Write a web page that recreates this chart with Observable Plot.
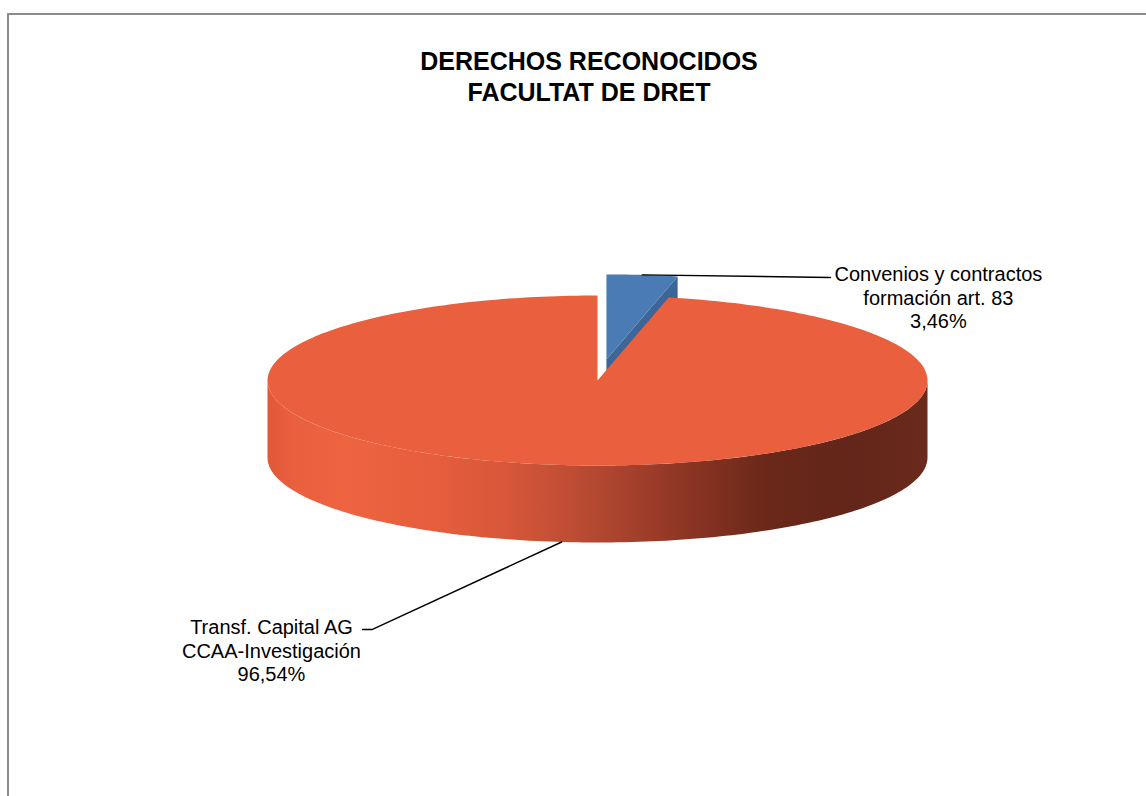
<!DOCTYPE html>
<html>
<head>
<meta charset="utf-8">
<script src="https://cdn.jsdelivr.net/npm/d3@7"></script>
<script src="https://cdn.jsdelivr.net/npm/@observablehq/plot@0.6"></script>
<style>
  html, body { margin: 0; padding: 0; background: #fff; overflow: hidden; }
  #frame { position: absolute; left: 7px; top: 13px; width: 1160px; height: 800px;
           border-left: 2px solid #8c8c8c; border-top: 2px solid #8c8c8c; }
  #title { position: absolute; left: 0; top: 46px; width: 1178px; text-align: center;
           font: bold 25px "Liberation Sans", Arial, sans-serif; line-height: 31px; color: #000; }
  #chart { position: absolute; left: 0; top: 120px; }
</style>
</head>
<body>
<div id="frame"></div>
<div id="title">DERECHOS RECONOCIDOS<br>FACULTAT DE DRET</div>
<div id="chart"></div>
<script>
// ---- data ----
const categories = ["Convenios y contractos formación art. 83", "Transf. Capital AG CCAA-Investigación"];
const labelLines = [["Convenios y contractos", "formación art. 83"], ["Transf. Capital AG", "CCAA-Investigación"]];
const values = [3.46, 96.54];
const topColors = ["#4A7BB4", "#EA5F3D"];
const faceColors = ["#3D6597", "#B8472F"];
const explode = [0.25, 0];

// ---- layout (unit-ellipse coordinates) ----
const depth = 77 / 85;          // wall height in units of the vertical radius
const labelAnchor = [            // text centre / top of first line
  {x: 1.033, y: 1.365},
  {x: -0.988, y: -2.788}
];
const leaderEnds = [
  [{x: 0.706, y: 1.212}],
  [{x: -0.682, y: -2.929}, {x: -0.712, y: -2.929}]
];

// ---- geometry from data ----
const total = d3.sum(values);
let acc = 0;
const slices = values.map((v, i) => {
  const a0 = acc / total * 2 * Math.PI;
  acc += v;
  const a1 = acc / total * 2 * Math.PI;
  const mid = (a0 + a1) / 2;
  return {i, v, a0, a1, mid, ox: explode[i] * Math.sin(mid), oy: explode[i] * Math.cos(mid)};
});

function arcPts(s, a0, a1, dy = 0, n = 300) {
  const k = Math.max(2, Math.ceil(n * (a1 - a0) / (2 * Math.PI)));
  return d3.range(k + 1).map(j => {
    const a = a0 + (a1 - a0) * j / k;
    return {x: s.ox + Math.sin(a), y: s.oy + Math.cos(a) + dy};
  });
}

const marks = [];
const fmt = v => v.toFixed(2).replace(".", ",") + "%";

// back-to-front: exploded small slice first
const order = [0, 1];
for (const i of order) {
  const s = slices[i];
  // radial face at end angle (visible when it faces the viewer)
  if (i === 0 && s.a1 < Math.PI) {
    const face = [
      {x: s.ox, y: s.oy},
      {x: s.ox + Math.sin(s.a1), y: s.oy + Math.cos(s.a1)},
      {x: s.ox + Math.sin(s.a1), y: s.oy + Math.cos(s.a1) - depth},
      {x: s.ox, y: s.oy - depth},
      {x: s.ox, y: s.oy}
    ];
    marks.push(Plot.line(face, {x: "x", y: "y", fill: faceColors[i], stroke: "none"}));
  }
  // front outer wall
  const w0 = Math.max(s.a0, Math.PI / 2), w1 = Math.min(s.a1, 3 * Math.PI / 2);
  if (w1 > w0) {
    const wall = arcPts(s, w0, w1).concat(arcPts(s, w0, w1, -depth).reverse());
    wall.push(wall[0]);
    marks.push(Plot.line(wall, {x: "x", y: "y", fill: i === 1 ? "url(#sideGrad)" : faceColors[i], stroke: "none"}));
  }
  // top face
  const top = [{x: s.ox, y: s.oy}].concat(arcPts(s, s.a0, s.a1), [{x: s.ox, y: s.oy}]);
  marks.push(Plot.line(top, {x: "x", y: "y", fill: topColors[i], stroke: "none"}));
}

// leader lines
slices.forEach((s, i) => {
  const r = 1 + explode[i];
  const onTop = Math.cos(s.mid) > 0;
  const start = {x: Math.sin(s.mid) * r, y: Math.cos(s.mid) * r - (onTop ? 0 : depth)};
  marks.push(Plot.line([start, ...leaderEnds[i]], {x: "x", y: "y", stroke: "#000", strokeWidth: 1.4}));
});

// labels
const labelData = slices.map((s, i) => ({
  x: labelAnchor[i].x, y: labelAnchor[i].y,
  text: labelLines[i].join("\n") + "\n" + fmt(values[i])
}));
marks.push(Plot.text(labelData, {
  x: "x", y: "y", text: "text", lineAnchor: "top", textAnchor: "middle",
  fontSize: 20, lineHeight: 1.18, fill: "#000",
  fontFamily: "Liberation Sans, Arial, sans-serif"
}));

const svg = Plot.plot({
  width: 1146,
  height: 676,
  margin: 0,
  style: {background: "transparent", overflow: "visible"},
  x: {axis: null, domain: [-1, 1], range: [267, 927]},
  y: {axis: null, domain: [-1, 1], range: [345, 175]},
  marks
});

// gradient for the shaded side wall
const defs = d3.select(svg).insert("defs", ":first-child");
const grad = defs.append("linearGradient").attr("id", "sideGrad")
  .attr("x1", 0).attr("x2", 1).attr("y1", 0).attr("y2", 0);
[[0, "#E0583A"], [0.04, "#EA5F3D"], [0.12, "#EE6441"], [0.26, "#E55D3C"], [0.36, "#D7573A"],
 [0.46, "#BE4D34"], [0.56, "#A23F2B"], [0.66, "#853221"], [0.76, "#6A2819"], [0.88, "#63261A"], [1, "#6A2A1C"]]
  .forEach(([o, c]) => grad.append("stop").attr("offset", o).attr("stop-color", c));

document.getElementById("chart").appendChild(svg);
</script>
</body>
</html>
